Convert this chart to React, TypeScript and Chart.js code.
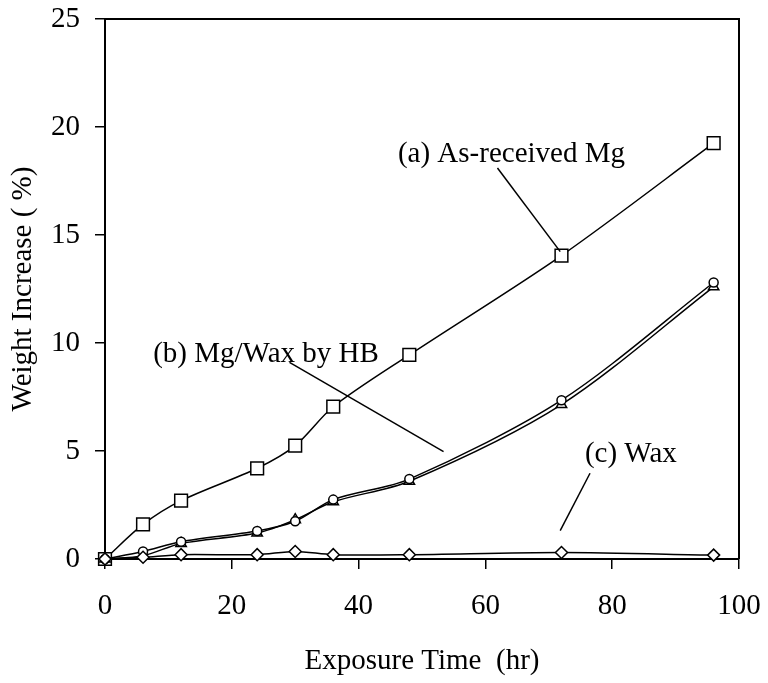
import React, { useEffect, useRef } from 'react';
import { Chart, registerables } from 'chart.js';

Chart.register(...registerables);

// ---- Data ----
const hours = [0, 6, 12, 24, 30, 36, 48, 72, 96];
const asReceivedMg = [0, 1.6, 2.7, 4.2, 5.25, 7.05, 9.45, 14.05, 19.25];
const mgWaxCircle = [0, 0.35, 0.8, 1.3, 1.75, 2.75, 3.7, 7.35, 12.8];
const mgWaxTriangle = [0, 0.15, 0.72, 1.2, 1.82, 2.65, 3.6, 7.15, 12.6];
const waxOnly = [0, 0.08, 0.2, 0.2, 0.35, 0.2, 0.2, 0.3, 0.18];

const xTicks = [0, 20, 40, 60, 80, 100];
const yTicks = [0, 5, 10, 15, 20, 25];

// annotation labels (anchored in data coordinates)
const labelTexts = ['(a) As-received Mg', '(b) Mg/Wax by HB', '(c) Wax'];
const labelX = [46.2, 7.6, 75.7];
const labelY = [18.4, 9.12, 4.5];
const leaderFromX = [61.9, 29.1, 76.5];
const leaderFromY = [18.1, 9.1, 3.97];
const leaderToX = [71.8, 53.4, 71.8];
const leaderToY = [14.23, 4.97, 1.31];

const FONT = '"Liberation Serif", "Times New Roman", serif';
const FS = 29;

function pts(ys: number[]) {
  return hours.map((h, i) => ({ x: h, y: ys[i] }));
}

export default function App() {
  const ref = useRef<HTMLCanvasElement>(null);

  useEffect(() => {
    const canvas = ref.current;
    if (!canvas) return;

    const annotate = {
      id: 'annotate',
      afterDatasetsDraw(chart: any) {
        const { ctx, chartArea, scales } = chart;
        const xs = scales.x;
        const ys = scales.y;
        ctx.save();
        ctx.strokeStyle = '#000';
        ctx.lineWidth = 2;
        ctx.beginPath();
        ctx.moveTo(chartArea.left, chartArea.top);
        ctx.lineTo(chartArea.right, chartArea.top);
        ctx.lineTo(chartArea.right, chartArea.bottom);
        ctx.stroke();
        ctx.lineWidth = 1.5;
        for (let i = 0; i < labelTexts.length; i++) {
          ctx.beginPath();
          ctx.moveTo(xs.getPixelForValue(leaderFromX[i]), ys.getPixelForValue(leaderFromY[i]));
          ctx.lineTo(xs.getPixelForValue(leaderToX[i]), ys.getPixelForValue(leaderToY[i]));
          ctx.stroke();
        }
        ctx.fillStyle = '#000';
        ctx.font = `${FS}px ${FONT}`;
        ctx.textAlign = 'left';
        ctx.textBaseline = 'alphabetic';
        for (let i = 0; i < labelTexts.length; i++) {
          ctx.fillText(labelTexts[i], xs.getPixelForValue(labelX[i]), ys.getPixelForValue(labelY[i]));
        }
        ctx.restore();
      },
    };

    const common = {
      showLine: true,
      borderColor: '#000',
      borderWidth: 1.5,
      tension: 0.3,
      pointBackgroundColor: '#fff',
      pointBorderColor: '#000',
      pointBorderWidth: 1.5,
      clip: false as any,
    };

    const zeroPad = (s: any) => {
      s.paddingTop = 0;
      s.paddingBottom = 0;
      s.paddingLeft = 0;
      s.paddingRight = 0;
    };

    const chart = new Chart(canvas, {
      type: 'scatter',
      data: {
        datasets: [
          { ...common, label: '(c) Wax', data: pts(waxOnly), pointStyle: 'rectRot', pointRadius: 6 },
          { ...common, label: '(b) Mg/Wax by HB (circle)', data: pts(mgWaxCircle), pointStyle: 'circle', pointRadius: 4.5 },
          { ...common, label: '(b) Mg/Wax by HB (triangle)', data: pts(mgWaxTriangle), pointStyle: 'triangle', pointRadius: 6 },
          { ...common, label: '(a) As-received Mg', data: pts(asReceivedMg), pointStyle: 'rect', pointRadius: 9 },
        ],
      },
      options: {
        responsive: false,
        animation: false,
        devicePixelRatio: 1,
        layout: { padding: { top: 19, right: 29, left: 0, bottom: 0 } },
        plugins: { legend: { display: false }, tooltip: { enabled: false } },
        scales: {
          x: {
            type: 'linear',
            min: 0,
            max: 100,
            afterBuildTicks(s: any) { s.ticks = xTicks.map((v) => ({ value: v })); },
            afterFit(s: any) { s.height = 124; zeroPad(s); },
            ticks: { color: '#000', font: { family: FONT, size: FS }, padding: 20 },
            grid: { drawOnChartArea: false, drawTicks: true, tickLength: 10, color: '#000', lineWidth: 1.5 },
            border: { color: '#000', width: 2 },
            title: { display: true, text: 'Exposure Time  (hr)', color: '#000', font: { family: FONT, size: FS }, padding: { top: 0, bottom: 4 } },
          },
          y: {
            type: 'linear',
            min: 0,
            max: 25,
            afterBuildTicks(s: any) { s.ticks = yTicks.map((v) => ({ value: v })); },
            afterFit(s: any) { s.width = 105; zeroPad(s); },
            ticks: { color: '#000', font: { family: FONT, size: FS }, padding: 15 },
            grid: { drawOnChartArea: false, drawTicks: true, tickLength: 10, color: '#000', lineWidth: 1.5 },
            border: { color: '#000', width: 2 },
            title: { display: true, text: 'Weight Increase ( %)', color: '#000', font: { family: FONT, size: FS }, padding: { top: 6, bottom: 0 } },
          },
        },
      },
      plugins: [annotate],
    } as any);

    return () => chart.destroy();
  }, []);

  return (
    <div style={{ position: 'fixed', left: 0, top: 0, width: 768, height: 683, background: '#fff' }}>
      <canvas ref={ref} width={768} height={683} style={{ display: 'block' }} />
    </div>
  );
}
